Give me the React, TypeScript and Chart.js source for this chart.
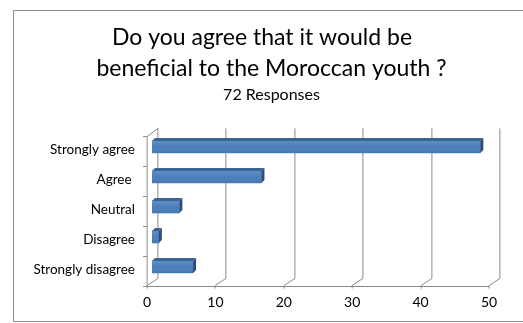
import React, { useEffect, useRef } from "react";
import { Chart, registerables } from "chart.js";

Chart.register(...registerables);

const categories = ["Strongly agree", "Agree ", "Neutral", "Disagree", "Strongly disagree"];
const responses = [48, 16, 4, 1, 6];
const xTicks = [0, 10, 20, 30, 40, 50];
const titleLines = ["Do you agree that it would be", "beneficial to the Moroccan youth ?"];
const subtitleText = "72 Responses";

const FONT = "Lato, 'Open Sans', sans-serif";
const GRID = "#8a8a8a";
const DX = 5.4; // 3D depth offset (mid-plane to back-plane)
const DY = 3.6;
const BD = 3; // bar depth

const framePlugin = {
  id: "frame3d",
  beforeDraw(chart: any) {
    const ctx = chart.ctx;
    ctx.save();
    ctx.fillStyle = "#ffffff";
    ctx.fillRect(0, 0, chart.width, chart.height);
    ctx.strokeStyle = "#8c8c8c";
    ctx.lineWidth = 1;
    ctx.beginPath();
    ctx.moveTo(chart.width, 10.5);
    ctx.lineTo(13.5, 10.5);
    ctx.lineTo(13.5, 321.5);
    ctx.lineTo(chart.width, 321.5);
    ctx.stroke();
    ctx.fillStyle = "#000000";
    ctx.textAlign = "center";
    ctx.textBaseline = "alphabetic";
    ctx.font = `23px ${FONT}`;
    ctx.fillText(titleLines[0], 262, 45);
    ctx.fillText(titleLines[1], 271.5, 76);
    ctx.font = `16px ${FONT}`;
    ctx.fillText(subtitleText, 271.5, 100);
    ctx.restore();
  },
  beforeDatasetsDraw(chart: any) {
    const ctx = chart.ctx;
    const xs = chart.scales.x;
    const a = chart.chartArea;
    ctx.save();
    ctx.strokeStyle = GRID;
    ctx.lineWidth = 1;
    ctx.beginPath();
    xTicks.forEach((v) => {
      const px = Math.round(xs.getPixelForValue(v)) + 0.5;
      ctx.moveTo(px + DX, a.top - DY);
      ctx.lineTo(px + DX, a.bottom - DY);
      ctx.moveTo(px - DX, a.bottom + DY);
      ctx.lineTo(px + DX, a.bottom - DY);
      ctx.moveTo(px - DX, a.bottom + DY);
      ctx.lineTo(px - DX, a.bottom + DY + 3);
    });
    const x0 = Math.round(xs.getPixelForValue(xTicks[0])) + 0.5;
    const x1 = Math.round(xs.getPixelForValue(xTicks[xTicks.length - 1])) + 0.5;
    const fy = Math.round(a.bottom + DY) + 0.5;
    ctx.moveTo(x0 - DX, fy);
    ctx.lineTo(x1 - DX, fy);
    const lx = x0 - DX;
    const ty = Math.round(a.top + DY) + 0.5;
    ctx.moveTo(lx, ty);
    ctx.lineTo(lx, fy);
    ctx.moveTo(lx, ty);
    ctx.lineTo(lx + 2 * DX, a.top - DY);
    const n = categories.length;
    const band = (a.bottom - a.top) / n;
    for (let i = 0; i <= n; i++) {
      const yy = Math.round(a.top + i * band + DY) + 0.5;
      ctx.moveTo(lx - 4, yy);
      ctx.lineTo(lx, yy);
    }
    ctx.stroke();
    ctx.restore();
  },
  afterDatasetsDraw(chart: any) {
    const ctx = chart.ctx;
    const meta = chart.getDatasetMeta(0);
    ctx.save();
    meta.data.forEach((bar: any) => {
      const { x, y, base, height } = bar.getProps(["x", "y", "base", "height"], true);
      const top = y - height / 2;
      const bottom = y + height / 2;
      const g = ctx.createLinearGradient(0, top, 0, bottom);
      g.addColorStop(0, "rgba(255,255,255,0.12)");
      g.addColorStop(0.5, "rgba(255,255,255,0)");
      g.addColorStop(1, "rgba(0,0,0,0.06)");
      ctx.fillStyle = g;
      ctx.fillRect(base, top, x - base, height);
      ctx.fillStyle = "#3b6496";
      ctx.beginPath();
      ctx.moveTo(base, top);
      ctx.lineTo(x, top);
      ctx.lineTo(x + BD, top - BD);
      ctx.lineTo(base + BD, top - BD);
      ctx.closePath();
      ctx.fill();
      ctx.fillStyle = "#2c4c74";
      ctx.beginPath();
      ctx.moveTo(x, top);
      ctx.lineTo(x + BD, top - BD);
      ctx.lineTo(x + BD, bottom - BD);
      ctx.lineTo(x, bottom);
      ctx.closePath();
      ctx.fill();
    });
    ctx.restore();
  },
};

export default function App() {
  const ref = useRef<HTMLCanvasElement | null>(null);
  useEffect(() => {
    document.body.style.margin = "0";
    document.body.style.overflow = "hidden";
    document.documentElement.style.overflow = "hidden";
    const canvas = ref.current!;
    const chart = new Chart(canvas, {
      type: "bar",
      data: {
        labels: categories,
        datasets: [
          {
            data: responses,
            backgroundColor: "#4a7ebb",
            borderWidth: 0,
            barThickness: 12,
          },
        ],
      },
      options: {
        indexAxis: "y",
        responsive: false,
        animation: false,
        devicePixelRatio: 1,
        layout: { padding: { top: 132, right: 29, left: 0, bottom: 0 } },
        plugins: {
          legend: { display: false },
          tooltip: { enabled: false },
          title: { display: false },
        },
        scales: {
          x: {
            min: 0,
            max: 50,
            border: { display: false },
            grid: { display: false, drawTicks: false },
            afterFit: (s: any) => {
              s.height = 41;
            },
            afterBuildTicks: (s: any) => {
              s.ticks = xTicks.map((v) => ({ value: v }));
            },
            ticks: {
              color: "#000000",
              font: { family: FONT, size: 14 },
              padding: 12,
              labelOffset: -5,
              maxRotation: 0,
            },
          },
          y: {
            border: { display: false },
            grid: { display: false, drawTicks: false },
            afterFit: (s: any) => {
              s.width = 152;
            },
            ticks: {
              color: "#000000",
              font: { family: FONT, size: 13.5 },
              padding: 17,
              labelOffset: 3,
            },
          },
        },
      },
      plugins: [framePlugin],
    } as any);
    return () => chart.destroy();
  }, []);
  return (
    <div style={{ width: 523, height: 323 }}>
      <canvas ref={ref} width={523} height={323} style={{ width: 523, height: 323, display: "block" }} />
    </div>
  );
}
